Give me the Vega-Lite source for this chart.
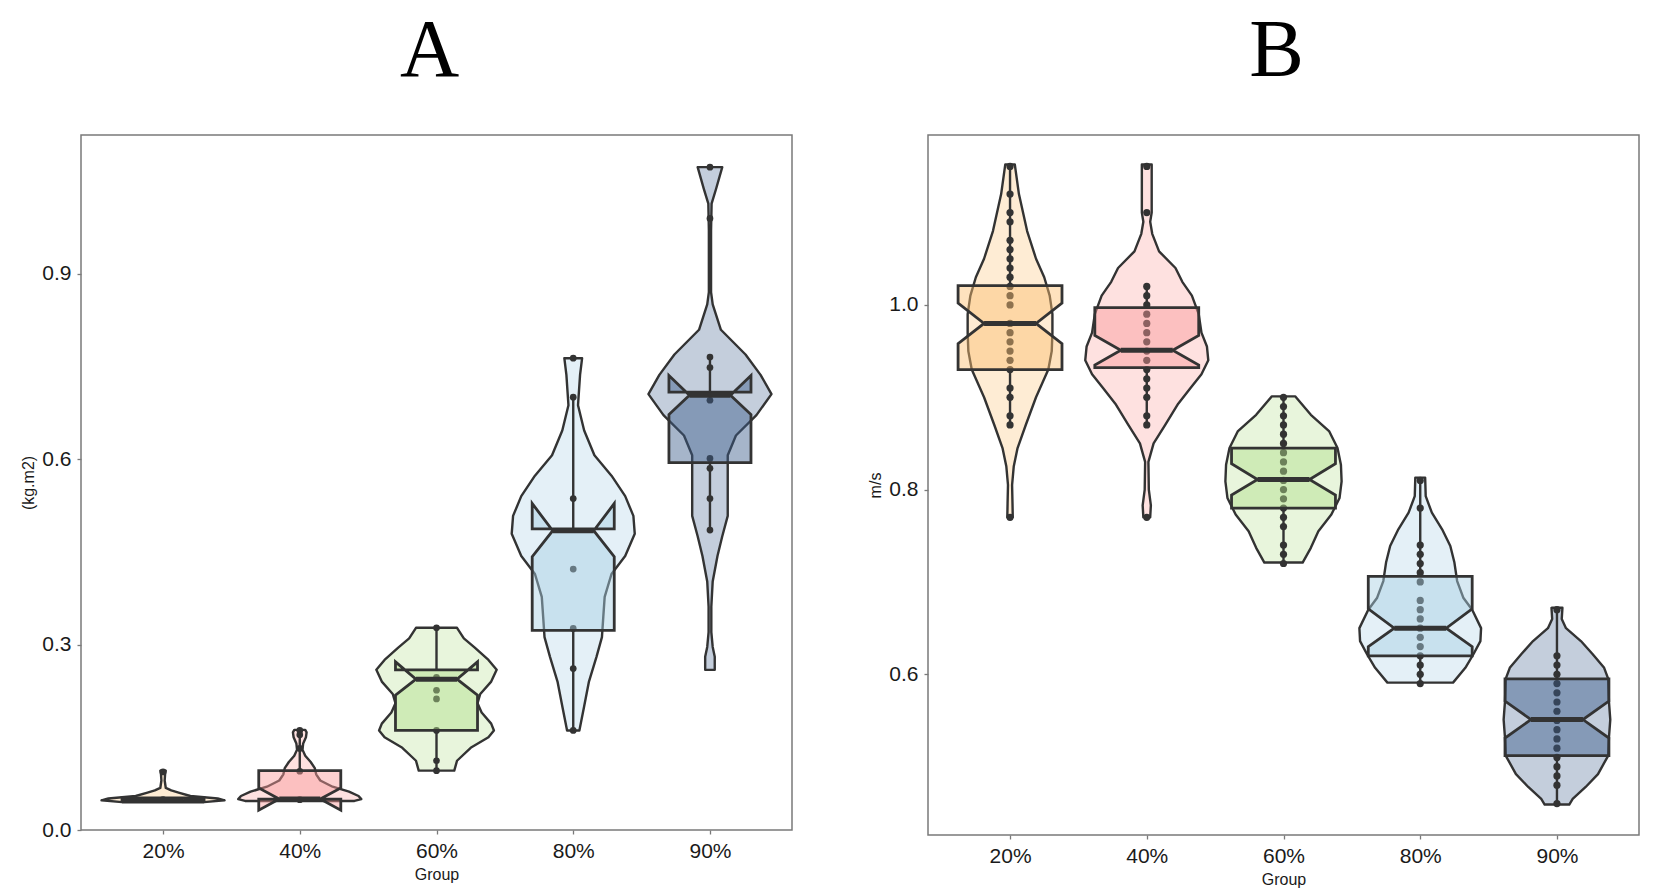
{
  "$schema": "https://vega.github.io/schema/vega-lite/v6.json",
  "background": "white",
  "padding": {"left": 20, "top": 9, "right": 5, "bottom": 5},
  "config": {
    "font": "Liberation Sans",
    "view": {"stroke": "#7a7a7a", "strokeWidth": 1.5},
    "axis": {
      "domain": false, "grid": false,
      "tickColor": "#7a7a7a", "tickSize": 4, "tickWidth": 1.3,
      "labelFontSize": 21, "labelColor": "#1a1a1a", "labelPadding": 6,
      "titleFontSize": 16, "titleFontWeight": "normal", "titleColor": "#1a1a1a", "titlePadding": 5
    },
    "title": {"font": "Liberation Serif", "fontSize": 82, "fontWeight": "normal", "color": "black", "anchor": "middle", "offset": 42, "dx": -7},
    "concat": {"spacing": 74}
  },
  "datasets": {
    "vA": [
      {"g": "20%", "y": 0.045, "x": 0.70, "x2": 1.30},
      {"g": "20%", "y": 0.048, "x": 0.55, "x2": 1.45},
      {"g": "20%", "y": 0.051, "x": 0.60, "x2": 1.40},
      {"g": "20%", "y": 0.055, "x": 0.80, "x2": 1.20},
      {"g": "20%", "y": 0.060, "x": 0.88, "x2": 1.12},
      {"g": "20%", "y": 0.064, "x": 0.94, "x2": 1.06},
      {"g": "20%", "y": 0.068, "x": 0.98, "x2": 1.02},
      {"g": "20%", "y": 0.080, "x": 0.988, "x2": 1.012},
      {"g": "20%", "y": 0.090, "x": 0.985, "x2": 1.015},
      {"g": "20%", "y": 0.096, "x": 0.98, "x2": 1.02},
      {"g": "40%", "y": 0.047, "x": 1.60, "x2": 2.40},
      {"g": "40%", "y": 0.050, "x": 1.55, "x2": 2.45},
      {"g": "40%", "y": 0.055, "x": 1.57, "x2": 2.43},
      {"g": "40%", "y": 0.062, "x": 1.64, "x2": 2.36},
      {"g": "40%", "y": 0.070, "x": 1.76, "x2": 2.24},
      {"g": "40%", "y": 0.080, "x": 1.85, "x2": 2.15},
      {"g": "40%", "y": 0.090, "x": 1.88, "x2": 2.12},
      {"g": "40%", "y": 0.100, "x": 1.89, "x2": 2.11},
      {"g": "40%", "y": 0.110, "x": 1.92, "x2": 2.08},
      {"g": "40%", "y": 0.120, "x": 1.96, "x2": 2.04},
      {"g": "40%", "y": 0.130, "x": 1.98, "x2": 2.02},
      {"g": "40%", "y": 0.140, "x": 1.975, "x2": 2.025},
      {"g": "40%", "y": 0.150, "x": 1.955, "x2": 2.045},
      {"g": "40%", "y": 0.158, "x": 1.95, "x2": 2.05},
      {"g": "40%", "y": 0.162, "x": 1.96, "x2": 2.04},
      {"g": "60%", "y": 0.096, "x": 2.87, "x2": 3.13},
      {"g": "60%", "y": 0.112, "x": 2.85, "x2": 3.15},
      {"g": "60%", "y": 0.133, "x": 2.75, "x2": 3.25},
      {"g": "60%", "y": 0.150, "x": 2.62, "x2": 3.38},
      {"g": "60%", "y": 0.161, "x": 2.58, "x2": 3.42},
      {"g": "60%", "y": 0.172, "x": 2.60, "x2": 3.40},
      {"g": "60%", "y": 0.190, "x": 2.67, "x2": 3.33},
      {"g": "60%", "y": 0.205, "x": 2.70, "x2": 3.30},
      {"g": "60%", "y": 0.220, "x": 2.68, "x2": 3.32},
      {"g": "60%", "y": 0.240, "x": 2.60, "x2": 3.40},
      {"g": "60%", "y": 0.259, "x": 2.56, "x2": 3.44},
      {"g": "60%", "y": 0.275, "x": 2.62, "x2": 3.38},
      {"g": "60%", "y": 0.295, "x": 2.72, "x2": 3.28},
      {"g": "60%", "y": 0.310, "x": 2.80, "x2": 3.20},
      {"g": "60%", "y": 0.327, "x": 2.85, "x2": 3.15},
      {"g": "80%", "y": 0.161, "x": 3.955, "x2": 4.045},
      {"g": "80%", "y": 0.200, "x": 3.92, "x2": 4.08},
      {"g": "80%", "y": 0.240, "x": 3.885, "x2": 4.115},
      {"g": "80%", "y": 0.280, "x": 3.83, "x2": 4.17},
      {"g": "80%", "y": 0.312, "x": 3.79, "x2": 4.21},
      {"g": "80%", "y": 0.345, "x": 3.78, "x2": 4.22},
      {"g": "80%", "y": 0.377, "x": 3.77, "x2": 4.23},
      {"g": "80%", "y": 0.414, "x": 3.72, "x2": 4.28},
      {"g": "80%", "y": 0.443, "x": 3.62, "x2": 4.38},
      {"g": "80%", "y": 0.479, "x": 3.55, "x2": 4.45},
      {"g": "80%", "y": 0.508, "x": 3.56, "x2": 4.44},
      {"g": "80%", "y": 0.540, "x": 3.62, "x2": 4.38},
      {"g": "80%", "y": 0.573, "x": 3.72, "x2": 4.28},
      {"g": "80%", "y": 0.606, "x": 3.845, "x2": 4.155},
      {"g": "80%", "y": 0.646, "x": 3.92, "x2": 4.08},
      {"g": "80%", "y": 0.687, "x": 3.965, "x2": 4.035},
      {"g": "80%", "y": 0.736, "x": 3.95, "x2": 4.05},
      {"g": "80%", "y": 0.763, "x": 3.935, "x2": 4.065},
      {"g": "90%", "y": 0.259, "x": 4.965, "x2": 5.035},
      {"g": "90%", "y": 0.280, "x": 4.965, "x2": 5.035},
      {"g": "90%", "y": 0.296, "x": 4.98, "x2": 5.02},
      {"g": "90%", "y": 0.320, "x": 4.99, "x2": 5.01},
      {"g": "90%", "y": 0.361, "x": 4.99, "x2": 5.01},
      {"g": "90%", "y": 0.402, "x": 4.98, "x2": 5.02},
      {"g": "90%", "y": 0.443, "x": 4.945, "x2": 5.055},
      {"g": "90%", "y": 0.475, "x": 4.91, "x2": 5.09},
      {"g": "90%", "y": 0.508, "x": 4.87, "x2": 5.13},
      {"g": "90%", "y": 0.557, "x": 4.87, "x2": 5.13},
      {"g": "90%", "y": 0.606, "x": 4.87, "x2": 5.13},
      {"g": "90%", "y": 0.638, "x": 4.81, "x2": 5.19},
      {"g": "90%", "y": 0.671, "x": 4.66, "x2": 5.34},
      {"g": "90%", "y": 0.705, "x": 4.55, "x2": 5.45},
      {"g": "90%", "y": 0.736, "x": 4.63, "x2": 5.37},
      {"g": "90%", "y": 0.769, "x": 4.74, "x2": 5.26},
      {"g": "90%", "y": 0.809, "x": 4.92, "x2": 5.08},
      {"g": "90%", "y": 0.850, "x": 4.98, "x2": 5.02},
      {"g": "90%", "y": 0.870, "x": 4.992, "x2": 5.008},
      {"g": "90%", "y": 0.970, "x": 4.992, "x2": 5.008},
      {"g": "90%", "y": 1.013, "x": 4.988, "x2": 5.012},
      {"g": "90%", "y": 1.037, "x": 4.955, "x2": 5.045},
      {"g": "90%", "y": 1.072, "x": 4.91, "x2": 5.09}
    ],
    "bA": [
      {"g": "20%", "k": 1, "y": 0.047, "x": 0.7, "x2": 1.3},
      {"g": "20%", "k": 2, "y": 0.0475, "x": 0.7, "x2": 1.3},
      {"g": "20%", "k": 3, "y": 0.049, "x": 0.85, "x2": 1.15},
      {"g": "20%", "k": 4, "y": 0.0505, "x": 0.7, "x2": 1.3},
      {"g": "20%", "k": 5, "y": 0.052, "x": 0.7, "x2": 1.3},
      {"g": "40%", "k": 1, "y": 0.05, "x": 1.7, "x2": 2.3},
      {"g": "40%", "k": 2, "y": 0.032, "x": 1.7, "x2": 2.3},
      {"g": "40%", "k": 3, "y": 0.05, "x": 1.85, "x2": 2.15},
      {"g": "40%", "k": 4, "y": 0.068, "x": 1.7, "x2": 2.3},
      {"g": "40%", "k": 5, "y": 0.096, "x": 1.7, "x2": 2.3},
      {"g": "60%", "k": 1, "y": 0.161, "x": 2.7, "x2": 3.3},
      {"g": "60%", "k": 2, "y": 0.218, "x": 2.7, "x2": 3.3},
      {"g": "60%", "k": 3, "y": 0.244, "x": 2.85, "x2": 3.15},
      {"g": "60%", "k": 4, "y": 0.272, "x": 2.7, "x2": 3.3},
      {"g": "60%", "k": 5, "y": 0.259, "x": 2.7, "x2": 3.3},
      {"g": "80%", "k": 1, "y": 0.323, "x": 3.7, "x2": 4.3},
      {"g": "80%", "k": 2, "y": 0.442, "x": 3.7, "x2": 4.3},
      {"g": "80%", "k": 3, "y": 0.484, "x": 3.85, "x2": 4.15},
      {"g": "80%", "k": 4, "y": 0.528, "x": 3.7, "x2": 4.3},
      {"g": "80%", "k": 5, "y": 0.487, "x": 3.7, "x2": 4.3},
      {"g": "90%", "k": 1, "y": 0.594, "x": 4.7, "x2": 5.3},
      {"g": "90%", "k": 2, "y": 0.672, "x": 4.7, "x2": 5.3},
      {"g": "90%", "k": 3, "y": 0.703, "x": 4.85, "x2": 5.15},
      {"g": "90%", "k": 4, "y": 0.735, "x": 4.7, "x2": 5.3},
      {"g": "90%", "k": 5, "y": 0.708, "x": 4.7, "x2": 5.3}
    ],
    "dA": [
      {"g": "20%", "x": 1, "y": 0.094}, {"g": "20%", "x": 1, "y": 0.049},
      {"g": "40%", "x": 2, "y": 0.161}, {"g": "40%", "x": 2, "y": 0.154}, {"g": "40%", "x": 2, "y": 0.132},
      {"g": "40%", "x": 2, "y": 0.095}, {"g": "40%", "x": 2, "y": 0.049},
      {"g": "60%", "x": 3, "y": 0.327}, {"g": "60%", "x": 3, "y": 0.247}, {"g": "60%", "x": 3, "y": 0.226},
      {"g": "60%", "x": 3, "y": 0.212}, {"g": "60%", "x": 3, "y": 0.161}, {"g": "60%", "x": 3, "y": 0.112},
      {"g": "60%", "x": 3, "y": 0.096},
      {"g": "80%", "x": 4, "y": 0.763}, {"g": "80%", "x": 4, "y": 0.700}, {"g": "80%", "x": 4, "y": 0.536},
      {"g": "80%", "x": 4, "y": 0.422}, {"g": "80%", "x": 4, "y": 0.326}, {"g": "80%", "x": 4, "y": 0.261},
      {"g": "80%", "x": 4, "y": 0.161},
      {"g": "90%", "x": 5, "y": 1.072}, {"g": "90%", "x": 5, "y": 0.989}, {"g": "90%", "x": 5, "y": 0.765},
      {"g": "90%", "x": 5, "y": 0.748}, {"g": "90%", "x": 5, "y": 0.695}, {"g": "90%", "x": 5, "y": 0.601},
      {"g": "90%", "x": 5, "y": 0.585}, {"g": "90%", "x": 5, "y": 0.536}, {"g": "90%", "x": 5, "y": 0.485}
    ],
    "wA": [
      {"g": "40%", "x": 2, "y": 0.096, "y2": 0.161},
      {"g": "60%", "x": 3, "y": 0.259, "y2": 0.327},
      {"g": "60%", "x": 3, "y": 0.096, "y2": 0.161},
      {"g": "80%", "x": 4, "y": 0.487, "y2": 0.700},
      {"g": "80%", "x": 4, "y": 0.161, "y2": 0.323},
      {"g": "90%", "x": 5, "y": 0.708, "y2": 0.765},
      {"g": "90%", "x": 5, "y": 0.485, "y2": 0.594}
    ],
    "mA": [
      {"g": "20%", "y": 0.049, "x": 0.85, "x2": 1.15},
      {"g": "40%", "y": 0.05, "x": 1.85, "x2": 2.15},
      {"g": "60%", "y": 0.244, "x": 2.85, "x2": 3.15},
      {"g": "80%", "y": 0.484, "x": 3.85, "x2": 4.15},
      {"g": "90%", "y": 0.703, "x": 4.85, "x2": 5.15}
    ],
    "vB": [
      {"g": "20%", "y": 0.770, "x": 0.98, "x2": 1.02},
      {"g": "20%", "y": 0.785, "x": 0.982, "x2": 1.018},
      {"g": "20%", "y": 0.805, "x": 0.985, "x2": 1.015},
      {"g": "20%", "y": 0.825, "x": 0.973, "x2": 1.027},
      {"g": "20%", "y": 0.845, "x": 0.945, "x2": 1.055},
      {"g": "20%", "y": 0.870, "x": 0.885, "x2": 1.115},
      {"g": "20%", "y": 0.900, "x": 0.81, "x2": 1.19},
      {"g": "20%", "y": 0.930, "x": 0.72, "x2": 1.28},
      {"g": "20%", "y": 0.950, "x": 0.695, "x2": 1.305},
      {"g": "20%", "y": 0.970, "x": 0.69, "x2": 1.31},
      {"g": "20%", "y": 0.990, "x": 0.69, "x2": 1.31},
      {"g": "20%", "y": 1.010, "x": 0.71, "x2": 1.29},
      {"g": "20%", "y": 1.030, "x": 0.75, "x2": 1.25},
      {"g": "20%", "y": 1.050, "x": 0.81, "x2": 1.19},
      {"g": "20%", "y": 1.080, "x": 0.875, "x2": 1.125},
      {"g": "20%", "y": 1.120, "x": 0.935, "x2": 1.065},
      {"g": "20%", "y": 1.152, "x": 0.965, "x2": 1.035},
      {"g": "40%", "y": 0.770, "x": 1.975, "x2": 2.025},
      {"g": "40%", "y": 0.783, "x": 1.97, "x2": 2.03},
      {"g": "40%", "y": 0.800, "x": 1.985, "x2": 2.015},
      {"g": "40%", "y": 0.830, "x": 1.988, "x2": 2.012},
      {"g": "40%", "y": 0.850, "x": 1.95, "x2": 2.05},
      {"g": "40%", "y": 0.870, "x": 1.865, "x2": 2.135},
      {"g": "40%", "y": 0.893, "x": 1.77, "x2": 2.23},
      {"g": "40%", "y": 0.910, "x": 1.68, "x2": 2.32},
      {"g": "40%", "y": 0.925, "x": 1.60, "x2": 2.40},
      {"g": "40%", "y": 0.940, "x": 1.55, "x2": 2.45},
      {"g": "40%", "y": 0.955, "x": 1.56, "x2": 2.44},
      {"g": "40%", "y": 0.970, "x": 1.60, "x2": 2.40},
      {"g": "40%", "y": 0.990, "x": 1.62, "x2": 2.38},
      {"g": "40%", "y": 1.010, "x": 1.67, "x2": 2.33},
      {"g": "40%", "y": 1.025, "x": 1.74, "x2": 2.26},
      {"g": "40%", "y": 1.040, "x": 1.79, "x2": 2.21},
      {"g": "40%", "y": 1.058, "x": 1.91, "x2": 2.09},
      {"g": "40%", "y": 1.077, "x": 1.96, "x2": 2.04},
      {"g": "40%", "y": 1.090, "x": 1.975, "x2": 2.025},
      {"g": "40%", "y": 1.100, "x": 1.964, "x2": 2.036},
      {"g": "40%", "y": 1.152, "x": 1.964, "x2": 2.036},
      {"g": "60%", "y": 0.721, "x": 2.86, "x2": 3.14},
      {"g": "60%", "y": 0.737, "x": 2.80, "x2": 3.20},
      {"g": "60%", "y": 0.755, "x": 2.745, "x2": 3.255},
      {"g": "60%", "y": 0.773, "x": 2.65, "x2": 3.35},
      {"g": "60%", "y": 0.791, "x": 2.59, "x2": 3.41},
      {"g": "60%", "y": 0.809, "x": 2.575, "x2": 3.425},
      {"g": "60%", "y": 0.827, "x": 2.58, "x2": 3.42},
      {"g": "60%", "y": 0.845, "x": 2.605, "x2": 3.395},
      {"g": "60%", "y": 0.863, "x": 2.665, "x2": 3.335},
      {"g": "60%", "y": 0.881, "x": 2.80, "x2": 3.20},
      {"g": "60%", "y": 0.901, "x": 2.915, "x2": 3.085},
      {"g": "80%", "y": 0.591, "x": 3.76, "x2": 4.24},
      {"g": "80%", "y": 0.607, "x": 3.67, "x2": 4.33},
      {"g": "80%", "y": 0.622, "x": 3.61, "x2": 4.39},
      {"g": "80%", "y": 0.636, "x": 3.56, "x2": 4.44},
      {"g": "80%", "y": 0.650, "x": 3.555, "x2": 4.445},
      {"g": "80%", "y": 0.670, "x": 3.62, "x2": 4.38},
      {"g": "80%", "y": 0.683, "x": 3.685, "x2": 4.315},
      {"g": "80%", "y": 0.701, "x": 3.73, "x2": 4.27},
      {"g": "80%", "y": 0.721, "x": 3.75, "x2": 4.25},
      {"g": "80%", "y": 0.739, "x": 3.78, "x2": 4.22},
      {"g": "80%", "y": 0.757, "x": 3.84, "x2": 4.16},
      {"g": "80%", "y": 0.775, "x": 3.915, "x2": 4.085},
      {"g": "80%", "y": 0.793, "x": 3.96, "x2": 4.04},
      {"g": "80%", "y": 0.813, "x": 3.964, "x2": 4.036},
      {"g": "90%", "y": 0.459, "x": 4.91, "x2": 5.09},
      {"g": "90%", "y": 0.465, "x": 4.885, "x2": 5.115},
      {"g": "90%", "y": 0.478, "x": 4.79, "x2": 5.21},
      {"g": "90%", "y": 0.492, "x": 4.70, "x2": 5.30},
      {"g": "90%", "y": 0.512, "x": 4.625, "x2": 5.375},
      {"g": "90%", "y": 0.531, "x": 4.62, "x2": 5.38},
      {"g": "90%", "y": 0.551, "x": 4.61, "x2": 5.39},
      {"g": "90%", "y": 0.571, "x": 4.62, "x2": 5.38},
      {"g": "90%", "y": 0.595, "x": 4.625, "x2": 5.375},
      {"g": "90%", "y": 0.607, "x": 4.655, "x2": 5.345},
      {"g": "90%", "y": 0.622, "x": 4.74, "x2": 5.26},
      {"g": "90%", "y": 0.636, "x": 4.825, "x2": 5.175},
      {"g": "90%", "y": 0.650, "x": 4.934, "x2": 5.066},
      {"g": "90%", "y": 0.660, "x": 4.965, "x2": 5.035},
      {"g": "90%", "y": 0.672, "x": 4.96, "x2": 5.04}
    ],
    "bB": [
      {"g": "20%", "k": 1, "y": 0.930, "x": 0.62, "x2": 1.38},
      {"g": "20%", "k": 2, "y": 0.958, "x": 0.62, "x2": 1.38},
      {"g": "20%", "k": 3, "y": 0.980, "x": 0.81, "x2": 1.19},
      {"g": "20%", "k": 4, "y": 1.002, "x": 0.62, "x2": 1.38},
      {"g": "20%", "k": 5, "y": 1.021, "x": 0.62, "x2": 1.38},
      {"g": "40%", "k": 1, "y": 0.932, "x": 1.62, "x2": 2.38},
      {"g": "40%", "k": 2, "y": 0.935, "x": 1.62, "x2": 2.38},
      {"g": "40%", "k": 3, "y": 0.951, "x": 1.81, "x2": 2.19},
      {"g": "40%", "k": 4, "y": 0.967, "x": 1.62, "x2": 2.38},
      {"g": "40%", "k": 5, "y": 0.997, "x": 1.62, "x2": 2.38},
      {"g": "60%", "k": 1, "y": 0.780, "x": 2.62, "x2": 3.38},
      {"g": "60%", "k": 2, "y": 0.794, "x": 2.62, "x2": 3.38},
      {"g": "60%", "k": 3, "y": 0.811, "x": 2.81, "x2": 3.19},
      {"g": "60%", "k": 4, "y": 0.828, "x": 2.62, "x2": 3.38},
      {"g": "60%", "k": 5, "y": 0.845, "x": 2.62, "x2": 3.38},
      {"g": "80%", "k": 1, "y": 0.620, "x": 3.62, "x2": 4.38},
      {"g": "80%", "k": 2, "y": 0.630, "x": 3.62, "x2": 4.38},
      {"g": "80%", "k": 3, "y": 0.650, "x": 3.81, "x2": 4.19},
      {"g": "80%", "k": 4, "y": 0.671, "x": 3.62, "x2": 4.38},
      {"g": "80%", "k": 5, "y": 0.706, "x": 3.62, "x2": 4.38},
      {"g": "90%", "k": 1, "y": 0.512, "x": 4.62, "x2": 5.38},
      {"g": "90%", "k": 2, "y": 0.531, "x": 4.62, "x2": 5.38},
      {"g": "90%", "k": 3, "y": 0.551, "x": 4.81, "x2": 5.19},
      {"g": "90%", "k": 4, "y": 0.571, "x": 4.62, "x2": 5.38},
      {"g": "90%", "k": 5, "y": 0.595, "x": 4.62, "x2": 5.38}
    ],
    "dB": [
      {"g": "20%", "x": 1, "y": 1.15}, {"g": "20%", "x": 1, "y": 1.12}, {"g": "20%", "x": 1, "y": 1.10},
      {"g": "20%", "x": 1, "y": 1.09}, {"g": "20%", "x": 1, "y": 1.07}, {"g": "20%", "x": 1, "y": 1.06},
      {"g": "20%", "x": 1, "y": 1.05}, {"g": "20%", "x": 1, "y": 1.04}, {"g": "20%", "x": 1, "y": 1.03},
      {"g": "20%", "x": 1, "y": 1.02}, {"g": "20%", "x": 1, "y": 1.01}, {"g": "20%", "x": 1, "y": 1.00},
      {"g": "20%", "x": 1, "y": 0.98}, {"g": "20%", "x": 1, "y": 0.97}, {"g": "20%", "x": 1, "y": 0.96},
      {"g": "20%", "x": 1, "y": 0.95}, {"g": "20%", "x": 1, "y": 0.94}, {"g": "20%", "x": 1, "y": 0.93},
      {"g": "20%", "x": 1, "y": 0.91}, {"g": "20%", "x": 1, "y": 0.90}, {"g": "20%", "x": 1, "y": 0.88},
      {"g": "20%", "x": 1, "y": 0.87}, {"g": "20%", "x": 1, "y": 0.77},
      {"g": "40%", "x": 2, "y": 1.15}, {"g": "40%", "x": 2, "y": 1.10}, {"g": "40%", "x": 2, "y": 1.02},
      {"g": "40%", "x": 2, "y": 1.01}, {"g": "40%", "x": 2, "y": 1.00}, {"g": "40%", "x": 2, "y": 0.99},
      {"g": "40%", "x": 2, "y": 0.98}, {"g": "40%", "x": 2, "y": 0.97}, {"g": "40%", "x": 2, "y": 0.96},
      {"g": "40%", "x": 2, "y": 0.95}, {"g": "40%", "x": 2, "y": 0.94}, {"g": "40%", "x": 2, "y": 0.93},
      {"g": "40%", "x": 2, "y": 0.92}, {"g": "40%", "x": 2, "y": 0.91}, {"g": "40%", "x": 2, "y": 0.90},
      {"g": "40%", "x": 2, "y": 0.88}, {"g": "40%", "x": 2, "y": 0.87}, {"g": "40%", "x": 2, "y": 0.77},
      {"g": "60%", "x": 3, "y": 0.90}, {"g": "60%", "x": 3, "y": 0.89}, {"g": "60%", "x": 3, "y": 0.88},
      {"g": "60%", "x": 3, "y": 0.87}, {"g": "60%", "x": 3, "y": 0.86}, {"g": "60%", "x": 3, "y": 0.85},
      {"g": "60%", "x": 3, "y": 0.84}, {"g": "60%", "x": 3, "y": 0.83}, {"g": "60%", "x": 3, "y": 0.82},
      {"g": "60%", "x": 3, "y": 0.81}, {"g": "60%", "x": 3, "y": 0.80}, {"g": "60%", "x": 3, "y": 0.79},
      {"g": "60%", "x": 3, "y": 0.78}, {"g": "60%", "x": 3, "y": 0.77}, {"g": "60%", "x": 3, "y": 0.76},
      {"g": "60%", "x": 3, "y": 0.74}, {"g": "60%", "x": 3, "y": 0.73}, {"g": "60%", "x": 3, "y": 0.72},
      {"g": "80%", "x": 4, "y": 0.81}, {"g": "80%", "x": 4, "y": 0.78}, {"g": "80%", "x": 4, "y": 0.74},
      {"g": "80%", "x": 4, "y": 0.73}, {"g": "80%", "x": 4, "y": 0.72}, {"g": "80%", "x": 4, "y": 0.71},
      {"g": "80%", "x": 4, "y": 0.70}, {"g": "80%", "x": 4, "y": 0.68}, {"g": "80%", "x": 4, "y": 0.67},
      {"g": "80%", "x": 4, "y": 0.66}, {"g": "80%", "x": 4, "y": 0.65}, {"g": "80%", "x": 4, "y": 0.64},
      {"g": "80%", "x": 4, "y": 0.63}, {"g": "80%", "x": 4, "y": 0.62}, {"g": "80%", "x": 4, "y": 0.61},
      {"g": "80%", "x": 4, "y": 0.60}, {"g": "80%", "x": 4, "y": 0.59},
      {"g": "90%", "x": 5, "y": 0.67}, {"g": "90%", "x": 5, "y": 0.62}, {"g": "90%", "x": 5, "y": 0.61},
      {"g": "90%", "x": 5, "y": 0.60}, {"g": "90%", "x": 5, "y": 0.59}, {"g": "90%", "x": 5, "y": 0.58},
      {"g": "90%", "x": 5, "y": 0.57}, {"g": "90%", "x": 5, "y": 0.56}, {"g": "90%", "x": 5, "y": 0.55},
      {"g": "90%", "x": 5, "y": 0.54}, {"g": "90%", "x": 5, "y": 0.53}, {"g": "90%", "x": 5, "y": 0.52},
      {"g": "90%", "x": 5, "y": 0.51}, {"g": "90%", "x": 5, "y": 0.50}, {"g": "90%", "x": 5, "y": 0.49},
      {"g": "90%", "x": 5, "y": 0.48}, {"g": "90%", "x": 5, "y": 0.46}
    ],
    "wB": [
      {"g": "20%", "x": 1, "y": 1.021, "y2": 1.15},
      {"g": "20%", "x": 1, "y": 0.87, "y2": 0.930},
      {"g": "40%", "x": 2, "y": 0.997, "y2": 1.02},
      {"g": "40%", "x": 2, "y": 0.87, "y2": 0.932},
      {"g": "60%", "x": 3, "y": 0.845, "y2": 0.90},
      {"g": "60%", "x": 3, "y": 0.72, "y2": 0.780},
      {"g": "80%", "x": 4, "y": 0.706, "y2": 0.81},
      {"g": "80%", "x": 4, "y": 0.59, "y2": 0.620},
      {"g": "90%", "x": 5, "y": 0.595, "y2": 0.67},
      {"g": "90%", "x": 5, "y": 0.46, "y2": 0.512}
    ],
    "mB": [
      {"g": "20%", "y": 0.980, "x": 0.81, "x2": 1.19},
      {"g": "40%", "y": 0.951, "x": 1.81, "x2": 2.19},
      {"g": "60%", "y": 0.811, "x": 2.81, "x2": 3.19},
      {"g": "80%", "y": 0.650, "x": 3.81, "x2": 4.19},
      {"g": "90%", "y": 0.551, "x": 4.81, "x2": 5.19}
    ]
  },
  "hconcat": [
    {
      "title": "A",
      "width": 711,
      "height": 695,
      "encoding": {
        "x": {"field": "x", "type": "quantitative", "title": "Group",
              "scale": {"domain": [0.4, 5.6], "nice": false, "zero": false},
              "axis": {"values": [1, 2, 3, 4, 5], "labelExpr": "['','20%','40%','60%','80%','90%'][datum.value]"}},
        "y": {"field": "y", "type": "quantitative", "title": "(kg.m2)",
              "scale": {"domain": [0, 1.124], "nice": false, "zero": false},
              "axis": {"values": [0, 0.3, 0.6, 0.9], "format": ".1f"}}
      },
      "layer": [
        {
          "data": {"name": "vA"},
          "mark": {"type": "area", "orient": "horizontal", "fillOpacity": 0.3, "stroke": "#333333", "strokeWidth": 2.4, "strokeJoin": "round"},
          "encoding": {
            "x2": {"field": "x2"},
            "fill": {"field": "g", "type": "nominal", "legend": null,
                     "scale": {"domain": ["20%", "40%", "60%", "80%", "90%"], "range": ["#FDBF6F", "#FB9A99", "#B2DF8A", "#A6CEE3", "#3A5C8A"]}},
            "order": {"value": null}
          }
        },
        {
          "data": {"name": "dA"},
          "mark": {"type": "point", "filled": true, "shape": "circle", "size": 45, "color": "#333333", "opacity": 1}
        },
        {
          "data": {"name": "bA"},
          "mark": {"type": "area", "orient": "horizontal", "fillOpacity": 0.45, "stroke": "#333333", "strokeWidth": 2.8, "strokeJoin": "miter"},
          "encoding": {
            "x2": {"field": "x2"},
            "fill": {"field": "g", "type": "nominal", "legend": null,
                     "scale": {"domain": ["20%", "40%", "60%", "80%", "90%"], "range": ["#FDBF6F", "#FB9A99", "#B2DF8A", "#A6CEE3", "#3A5C8A"]}},
            "order": {"value": null}
          }
        },
        {
          "data": {"name": "wA"},
          "mark": {"type": "rule", "color": "#333333", "strokeWidth": 2.4},
          "encoding": {"y2": {"field": "y2"}}
        },
        {
          "data": {"name": "mA"},
          "mark": {"type": "rule", "color": "#333333", "strokeWidth": 5},
          "encoding": {"x2": {"field": "x2"}}
        }
      ]
    },
    {
      "title": "B",
      "width": 711,
      "height": 700,
      "encoding": {
        "x": {"field": "x", "type": "quantitative", "title": "Group",
              "scale": {"domain": [0.4, 5.6], "nice": false, "zero": false},
              "axis": {"values": [1, 2, 3, 4, 5], "labelExpr": "['','20%','40%','60%','80%','90%'][datum.value]"}},
        "y": {"field": "y", "type": "quantitative", "title": "m/s",
              "scale": {"domain": [0.426, 1.184], "nice": false, "zero": false},
              "axis": {"values": [0.6, 0.8, 1.0], "format": ".1f"}}
      },
      "layer": [
        {
          "data": {"name": "vB"},
          "mark": {"type": "area", "orient": "horizontal", "fillOpacity": 0.3, "stroke": "#333333", "strokeWidth": 2.4, "strokeJoin": "round"},
          "encoding": {
            "x2": {"field": "x2"},
            "fill": {"field": "g", "type": "nominal", "legend": null,
                     "scale": {"domain": ["20%", "40%", "60%", "80%", "90%"], "range": ["#FDBF6F", "#FB9A99", "#B2DF8A", "#A6CEE3", "#3A5C8A"]}},
            "order": {"value": null}
          }
        },
        {
          "data": {"name": "dB"},
          "mark": {"type": "point", "filled": true, "shape": "circle", "size": 52, "color": "#333333", "opacity": 1}
        },
        {
          "data": {"name": "bB"},
          "mark": {"type": "area", "orient": "horizontal", "fillOpacity": 0.45, "stroke": "#333333", "strokeWidth": 2.8, "strokeJoin": "miter"},
          "encoding": {
            "x2": {"field": "x2"},
            "fill": {"field": "g", "type": "nominal", "legend": null,
                     "scale": {"domain": ["20%", "40%", "60%", "80%", "90%"], "range": ["#FDBF6F", "#FB9A99", "#B2DF8A", "#A6CEE3", "#3A5C8A"]}},
            "order": {"value": null}
          }
        },
        {
          "data": {"name": "wB"},
          "mark": {"type": "rule", "color": "#333333", "strokeWidth": 2.4},
          "encoding": {"y2": {"field": "y2"}}
        },
        {
          "data": {"name": "mB"},
          "mark": {"type": "rule", "color": "#333333", "strokeWidth": 5},
          "encoding": {"x2": {"field": "x2"}}
        }
      ]
    }
  ]
}
